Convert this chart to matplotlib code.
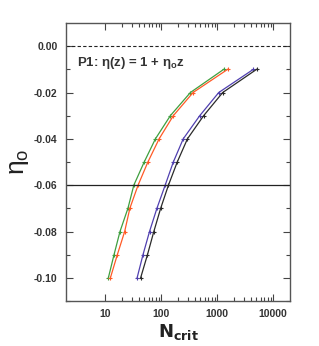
import matplotlib
matplotlib.use("Agg")
import matplotlib.pyplot as plt
from matplotlib.ticker import FixedLocator, NullFormatter
import numpy as np

eta0 = [-0.10, -0.09, -0.08, -0.07, -0.06, -0.05, -0.04, -0.03, -0.02, -0.01]
n_green = [11.4, 14.4, 18.4, 25.5, 32.5, 49.8, 79, 146, 333, 1312]
n_orange = [12.4, 16.5, 22.3, 27.6, 38.7, 58, 92, 165, 372, 1542]
n_blue = [37.2, 47.4, 62, 84, 118, 165, 248, 489, 1069, 4436]
n_black = [43, 57, 74, 98, 135, 194, 295, 574, 1259, 5070]

xticks = [10, 100, 1000, 10000]
xticklabels = ["10", "100", "1000", "10000"]
yticks = [0.00, -0.02, -0.04, -0.06, -0.08, -0.10]
yticklabels = ["0.00", "-0.02", "-0.04", "-0.06", "-0.08", "-0.10"]

plt.rcParams['font.family'] = ['Liberation Sans', 'DejaVu Sans']
plt.rcParams['mathtext.fontset'] = 'custom'
plt.rcParams['mathtext.rm'] = 'Liberation Sans'

fig = plt.figure(figsize=(3.19, 3.46), dpi=100)
ax = fig.add_axes([0.207, 0.130, 0.702, 0.8035])

series = [(n_green, "#3f9f3f"), (n_orange, "#ff5a26"), (n_blue, "#5040b0"), (n_black, "#2a2a2a")]
for n, c in series:
    ax.plot(n, eta0, color=c, lw=0.9, marker='+', ms=3, mew=0.8)

ax.axhline(0.0, color="#222222", lw=0.8, ls=(0, (3, 2)))
ax.axhline(-0.06, color="#222222", lw=0.9)

ax.set_xscale('log')
ax.set_xlim(2, 20000)
ax.set_ylim(-0.11, 0.01)

ax.xaxis.set_major_locator(FixedLocator(xticks))
ax.set_xticklabels(xticklabels)
minors = [m * 10 ** d for d in range(1, 4) for m in range(2, 10)]
ax.xaxis.set_minor_locator(FixedLocator(minors))
ax.xaxis.set_minor_formatter(NullFormatter())
ax.yaxis.set_major_locator(FixedLocator(yticks))
ax.set_yticklabels(yticklabels)
ax.yaxis.set_minor_locator(FixedLocator([0.01 * k - 0.11 for k in range(0, 12)]))

ax.tick_params(which='both', direction='in', top=True, right=True, color="#444444", width=0.8)
ax.tick_params(which='major', length=5, labelsize=7.5, labelcolor="#333333", pad=6)
ax.tick_params(which='minor', length=3)
for lab in ax.get_xticklabels() + ax.get_yticklabels():
    lab.set_fontweight('bold')
for s in ax.spines.values():
    s.set_color("#555555")
    s.set_linewidth(1.0)

ax.text(0.05, 0.845, r"P1: η(z) = 1 + $\mathregular{η_o}$z", transform=ax.transAxes,
        fontsize=9.5, fontweight='bold', color="#333333")

ax.set_ylabel(r"$\mathregular{η_o}$", fontsize=19, color="#222222", labelpad=2)
ax.set_xlabel(r"$\mathregular{\mathbf{N}_{\mathbf{crit}}}$", fontsize=13, color="#222222", labelpad=2)

fig.savefig("out.png", dpi=100)
